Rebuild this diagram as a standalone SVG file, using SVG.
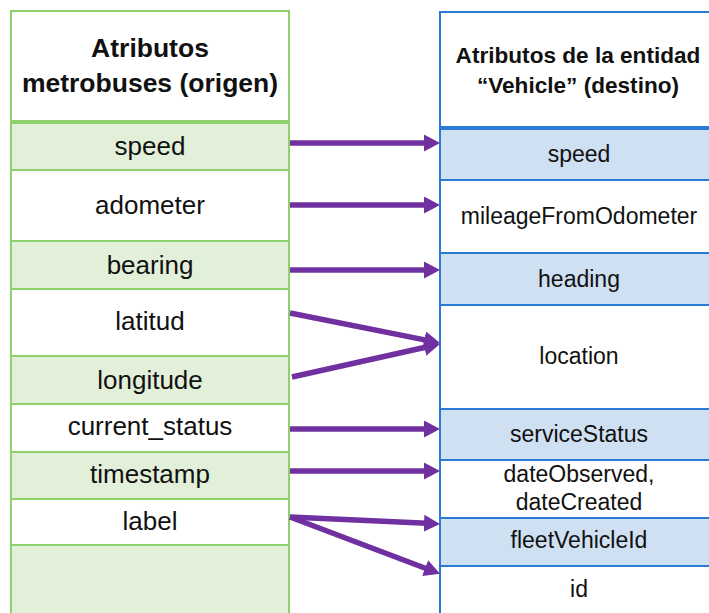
<svg xmlns="http://www.w3.org/2000/svg" width="709" height="613" viewBox="0 0 709 613">
  <style>
    .src { stroke: #8DD06C; stroke-width: 2; }
    .dst { stroke: #2A7BD5; stroke-width: 2; }
    .g { fill: #E2F0D9; }
    .w { fill: #FFFFFF; }
    .b { fill: #CFE0F2; }
    text { font-family: "Liberation Sans", Arial, sans-serif; fill: #111111; text-anchor: middle; }
    .hl { font-size: 26.5px; font-weight: bold; }
    .hr { font-size: 22.6px; font-weight: bold; }
    .tl { font-size: 26px; }
    .tr { font-size: 23px; }
    .arrow { stroke: #7030A0; stroke-width: 5.5; fill: none; marker-end: url(#head); }
  </style>
  <defs>
    <marker id="head" markerUnits="userSpaceOnUse" markerWidth="16" markerHeight="17" refX="8" refY="8.5" orient="auto">
      <path d="M0,0 L16,8.5 L0,17 Z" fill="#7030A0"/>
    </marker>
  </defs>
  <rect width="709" height="613" fill="#FFFFFF"/>

  <!-- source table: metrobus attributes -->
  <g id="source-table">
    <g id="src-header">
      <rect x="11" y="11" width="278" height="110" class="w src"/>
      <text class="hl" x="150" y="57">Atributos</text>
      <text class="hl" x="150" y="92">metrobuses (origen)</text>
    </g>
    <g id="src-speed">
      <rect x="11" y="123" width="278" height="47" class="g src"/>
      <text class="tl" x="150" y="155">speed</text>
    </g>
    <g id="src-adometer">
      <rect x="11" y="170" width="278" height="71" class="w src"/>
      <text class="tl" x="150" y="214">adometer</text>
    </g>
    <g id="src-bearing">
      <rect x="11" y="241" width="278" height="48" class="g src"/>
      <text class="tl" x="150" y="274">bearing</text>
    </g>
    <g id="src-latitud">
      <rect x="11" y="289" width="278" height="67" class="w src"/>
      <text class="tl" x="150" y="330">latitud</text>
    </g>
    <g id="src-longitude">
      <rect x="11" y="356" width="278" height="48" class="g src"/>
      <text class="tl" x="150" y="389">longitude</text>
    </g>
    <g id="src-current-status">
      <rect x="11" y="404" width="278" height="48" class="w src"/>
      <text class="tl" x="150" y="435">current_status</text>
    </g>
    <g id="src-timestamp">
      <rect x="11" y="452" width="278" height="47" class="g src"/>
      <text class="tl" x="150" y="483">timestamp</text>
    </g>
    <g id="src-label">
      <rect x="11" y="499" width="278" height="46" class="w src"/>
      <text class="tl" x="150" y="530">label</text>
    </g>
    <g id="src-empty">
      <rect x="11" y="545" width="278" height="80" class="g src"/>
    </g>
  </g>

  <!-- destination table: Vehicle entity attributes -->
  <g id="dest-table">
    <g id="dst-header">
      <rect x="440" y="12" width="280" height="115" class="w dst"/>
      <text class="hr" x="578" y="63">Atributos de la entidad</text>
      <text class="hr" x="578" y="93">“Vehicle” (destino)</text>
    </g>
    <g id="dst-speed">
      <rect x="440" y="129" width="280" height="51" class="b dst"/>
      <text class="tr" x="579" y="162">speed</text>
    </g>
    <g id="dst-mileage">
      <rect x="440" y="180" width="280" height="73" class="w dst"/>
      <text class="tr" x="579" y="224">mileageFromOdometer</text>
    </g>
    <g id="dst-heading">
      <rect x="440" y="253" width="280" height="52" class="b dst"/>
      <text class="tr" x="579" y="287">heading</text>
    </g>
    <g id="dst-location">
      <rect x="440" y="305" width="280" height="104" class="w dst"/>
      <text class="tr" x="579" y="364">location</text>
    </g>
    <g id="dst-service-status">
      <rect x="440" y="409" width="280" height="51" class="b dst"/>
      <text class="tr" x="579" y="442">serviceStatus</text>
    </g>
    <g id="dst-dates">
      <rect x="440" y="460" width="280" height="58" class="w dst"/>
      <text class="tr" x="579" y="482">dateObserved,</text>
      <text class="tr" x="579" y="510">dateCreated</text>
    </g>
    <g id="dst-fleet">
      <rect x="440" y="518" width="280" height="48" class="b dst"/>
      <text class="tr" x="579" y="548">fleetVehicleId</text>
    </g>
    <g id="dst-id">
      <rect x="440" y="566" width="280" height="60" class="w dst"/>
      <text class="tr" x="579" y="597">id</text>
    </g>
  </g>

  <!-- attribute mappings -->
  <g id="connectors">
    <line class="arrow" x1="290" y1="143" x2="432" y2="143"/>
    <line class="arrow" x1="290" y1="205" x2="432" y2="205"/>
    <line class="arrow" x1="290" y1="270" x2="432" y2="270"/>
    <line class="arrow" x1="290" y1="313" x2="432.2" y2="341.4"/>
    <line class="arrow" x1="292" y1="377" x2="432.2" y2="345.8"/>
    <line class="arrow" x1="290" y1="429" x2="432" y2="429"/>
    <line class="arrow" x1="290" y1="471" x2="432" y2="471"/>
    <line class="arrow" x1="290" y1="517" x2="432" y2="523.6"/>
    <line class="arrow" x1="290" y1="517" x2="432.6" y2="571"/>
  </g>
</svg>
